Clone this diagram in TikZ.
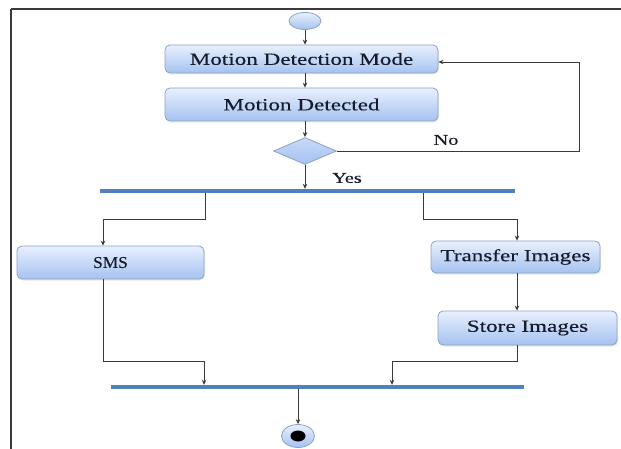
\documentclass[tikz,border=0pt]{standalone}
\usepackage{fontspec}
\setmainfont{Liberation Serif}[FakeStretch=1.36,FakeBold=0.3]
\newfontfamily\plainserif{Liberation Serif}[FakeStretch=1.05,FakeBold=0.3]
\usetikzlibrary{shapes.geometric,arrows.meta,shadows}
\definecolor{boxtop}{HTML}{E8F0FD}
\definecolor{boxbot}{HTML}{A6C2F1}
\definecolor{boxline}{HTML}{8BA2C6}
\definecolor{barblue}{HTML}{4F81BD}
\definecolor{linegray}{HTML}{3A3A3A}
\definecolor{txt}{HTML}{151B2C}
\tikzset{
  actbox/.style={rectangle, rounded corners=5pt, draw=boxline, line width=0.8pt,
    top color=boxtop, bottom color=boxbot, text=txt, inner sep=0pt,
    font=\fontsize{17}{20}\selectfont,
    drop shadow={opacity=0.18, shadow xshift=1pt, shadow yshift=-1.5pt}},
  forkbar/.style={rectangle, fill=barblue, draw=none, inner sep=0pt, minimum height=4pt},
  conn/.style={draw=linegray, line width=0.8pt, -{Stealth[length=5pt,width=4.5pt]}},
  lbl/.style={text=txt, font=\fontsize{15}{18}\selectfont, inner sep=0pt},
  frameline/.style={draw=linegray, line width=2pt}
}
\begin{document}
\begin{tikzpicture}[x=1pt,y=-1pt]
\useasboundingbox (0,0) rectangle (621,449);
% frame
\draw[frameline] (11,9) -- (621,9);
\draw[frameline] (11,9) -- (11,449);
% start
\node[ellipse, draw=boxline, line width=0.8pt, top color=boxtop, bottom color=boxbot,
  minimum width=32pt, minimum height=17pt, inner sep=0pt] (start) at (305,21) {};
% boxes
\node[actbox, minimum width=273pt, minimum height=28pt] (m1) at (301.5,59) {Motion Detection Mode};
\node[actbox, minimum width=273pt, minimum height=33pt] (m2) at (301.5,104.5) {Motion Detected};
\node[diamond, draw=boxline, line width=0.8pt, top color=boxtop!50!boxbot, bottom color=boxbot,
  minimum width=63pt, minimum height=27pt, inner sep=0pt] (dia) at (305,151) {};
\node[forkbar, minimum width=415pt] (bar1) at (307.5,191) {};
\node[actbox, minimum width=187pt, minimum height=33pt,
  font=\plainserif\fontsize{16.5}{19}\selectfont] (sms) at (110.5,262.5) {SMS};
\node[actbox, minimum width=169pt, minimum height=32pt] (tr) at (515.5,257) {Transfer Images};
\node[actbox, minimum width=179pt, minimum height=34pt] (st) at (527.5,328) {Store Images};
\node[forkbar, minimum width=413pt] (bar2) at (317.5,387) {};
\node[ellipse, draw=boxline, line width=0.8pt, top color=boxtop, bottom color=boxbot,
  minimum width=33pt, minimum height=23pt, inner sep=0pt] (end) at (298,436) {};
\node[ellipse, fill=black, minimum width=15pt, minimum height=11pt, inner sep=0pt] (endin) at (end.center) {};
% labels
\node[lbl] (yes) at (347,178) {Yes};
\node[lbl] (no) at (446,140) {No};
% coordinates
\coordinate (loopc) at (579,62);
\coordinate (fl) at (205,219);
\coordinate (fr) at (423,219);
\coordinate (smsx) at (103,0);
\coordinate (trx) at (517,0);
\coordinate (jl) at (204,361);
\coordinate (jr) at (392,361);
% connectors
\draw[conn] (start.south) -- (start.south |- m1.north);
\draw[conn] (m1.south -| start) -- (m2.north -| start);
\draw[conn] (m2.south -| dia) -- (dia.north);
\draw[conn] (dia.south) -- (dia.south |- bar1.north);
\draw[conn] (dia.east) -| (loopc) -- (loopc -| m1.east);
\draw[conn] (bar1.south -| fl) -- (fl) -| (sms.north -| smsx);
\draw[conn] (bar1.south -| fr) -- (fr) -| (tr.north -| trx);
\draw[conn] (tr.south -| trx) -- (st.north -| trx);
\draw[conn] (sms.south -| smsx) |- (jl) -- (bar2.north -| jl);
\draw[conn] (st.south -| trx) |- (jr) -- (bar2.north -| jr);
\draw[conn] (bar2.south -| end) -- (end.north);
\end{tikzpicture}
\end{document}
